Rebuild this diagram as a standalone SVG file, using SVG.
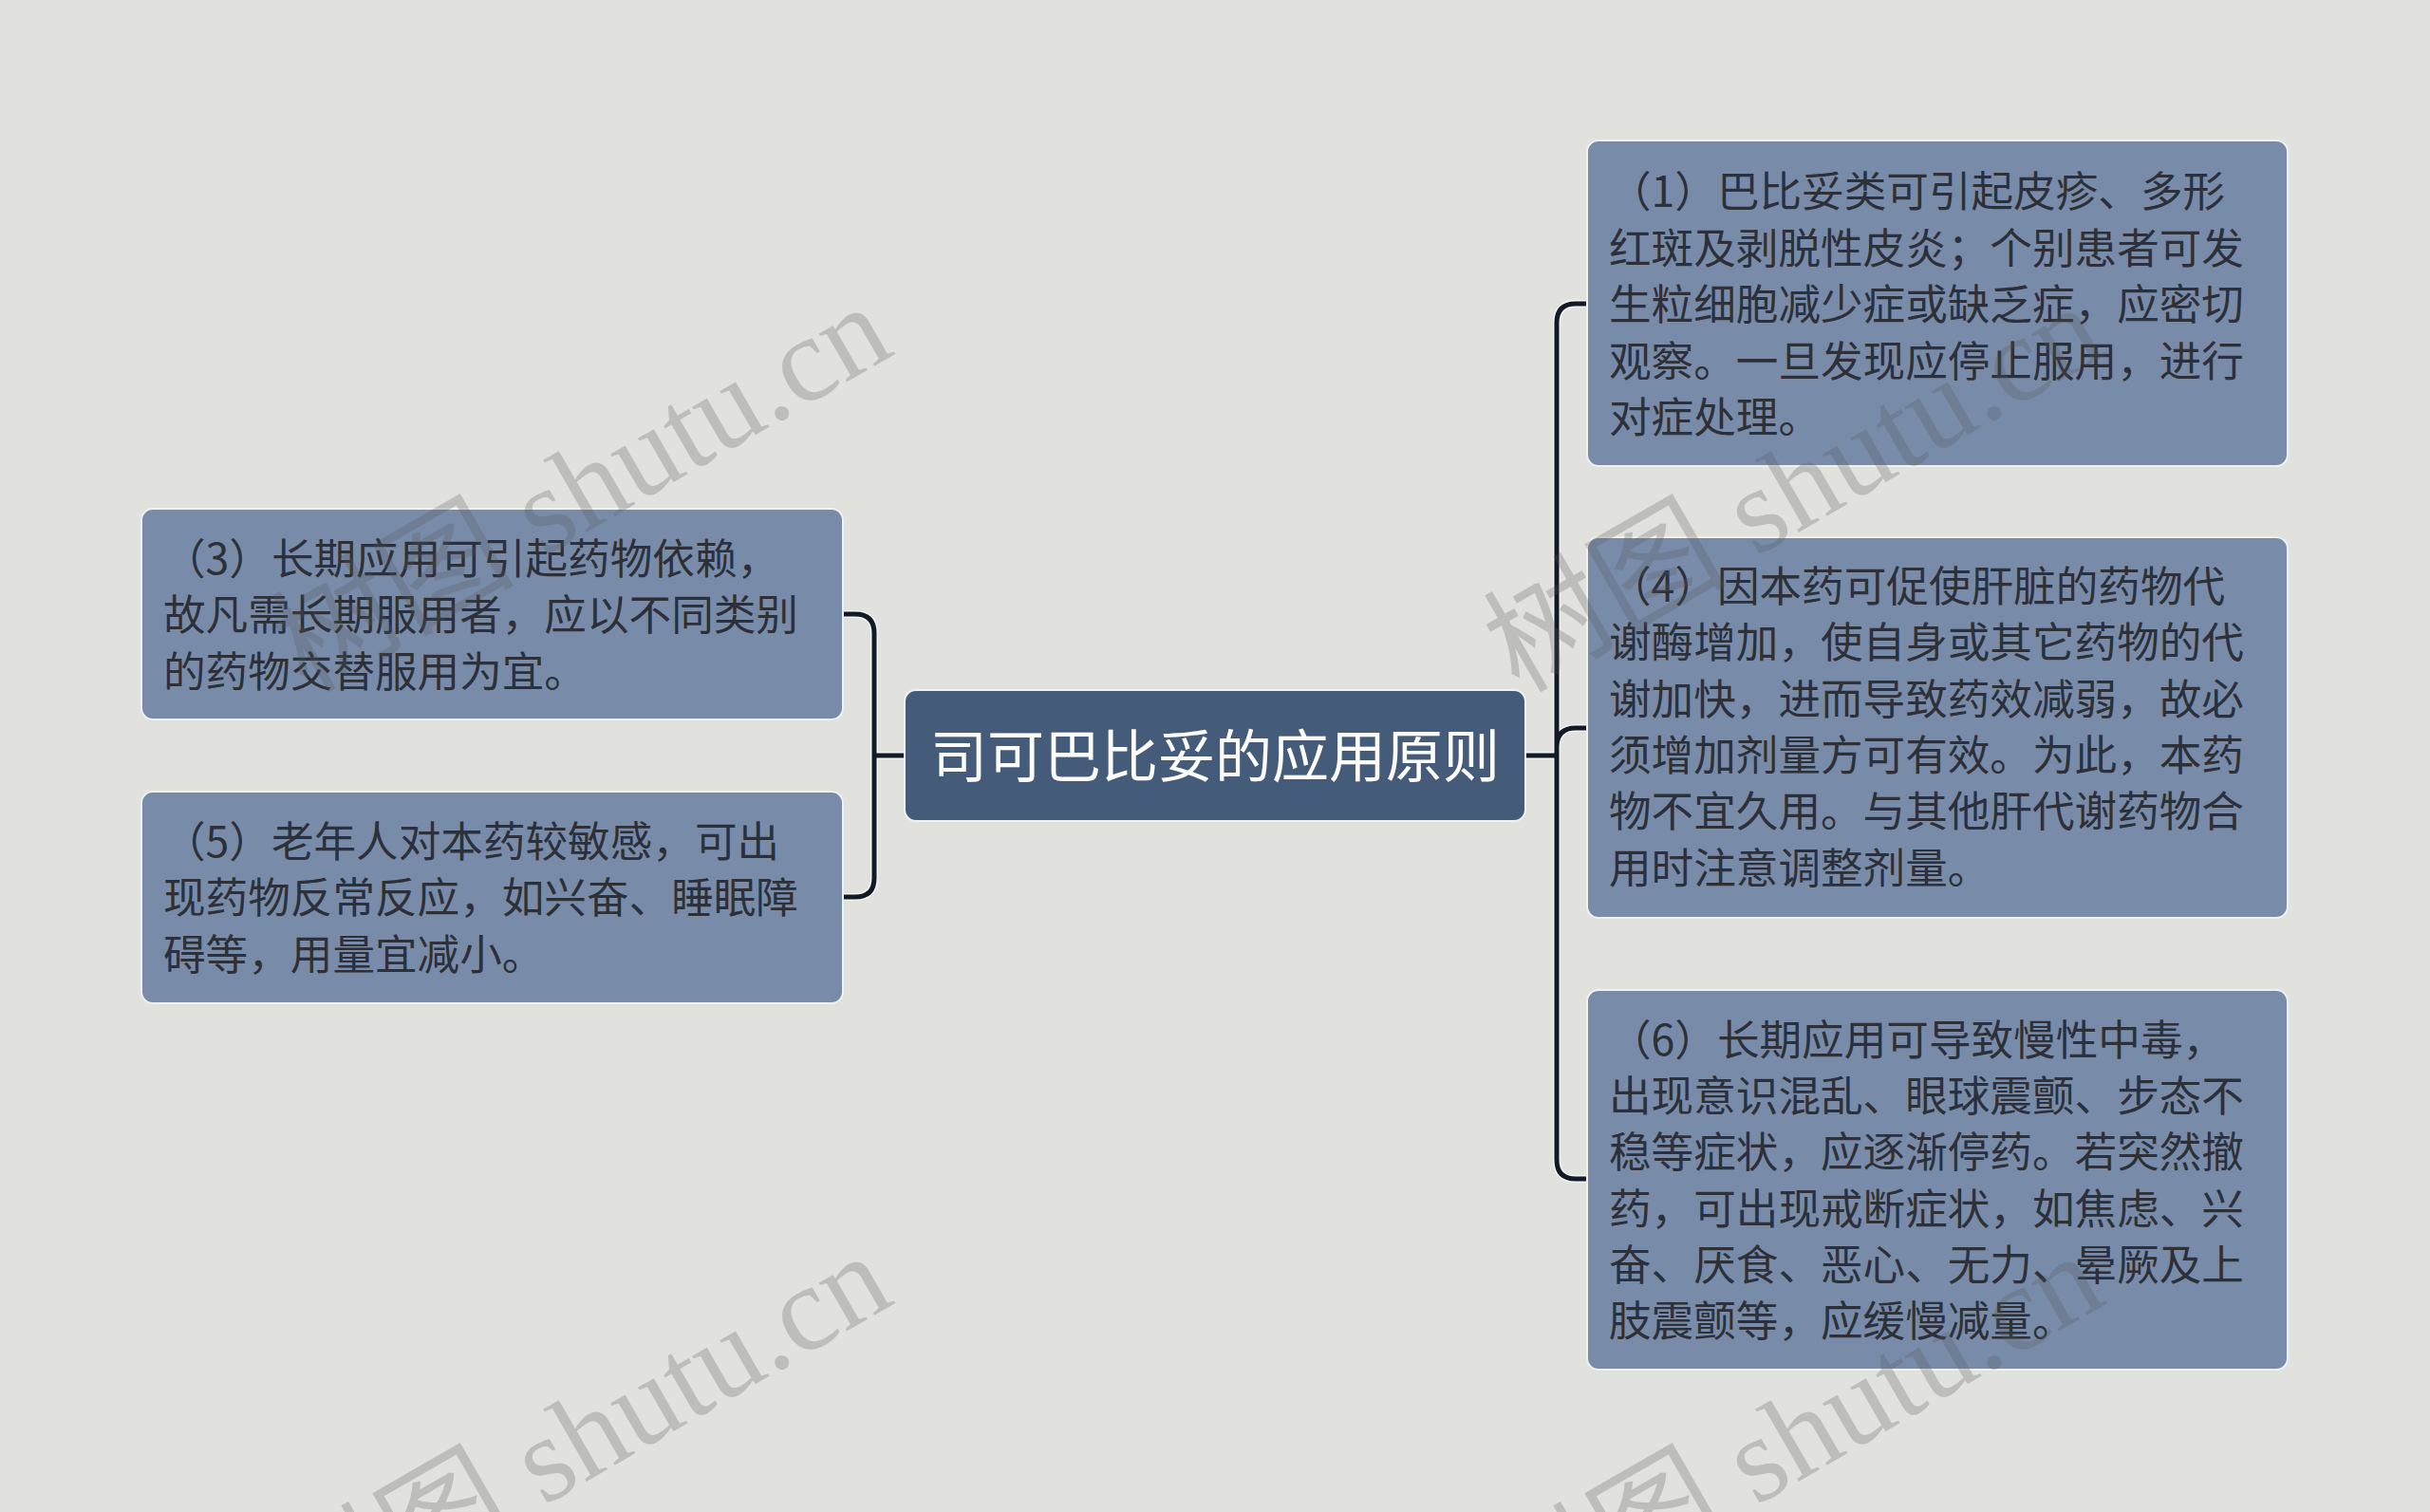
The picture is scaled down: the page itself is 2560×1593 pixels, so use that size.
<svg xmlns="http://www.w3.org/2000/svg" width="2560" height="1593" viewBox="0 0 2560 1593">
<style>
.bg{fill:#e1e2de}
.node rect{fill:#788caa;stroke:#eef0f2;stroke-width:2}
.node text{font-family:"Noto Sans CJK SC","Noto Sans",sans-serif;font-size:44.6px;fill:#2d3038}
#root rect{fill:#445b7a;stroke:#eef0f2;stroke-width:2}
#root text{font-family:"Noto Sans CJK SC","Noto Sans",sans-serif;font-size:60px;fill:#ffffff}
.halo{fill:none;stroke:#f4f5f3;stroke-width:8;stroke-linecap:round;stroke-linejoin:round}
.line{fill:none;stroke:#131a27;stroke-width:5;stroke-linecap:butt;stroke-linejoin:round}
.wm{font-family:"Liberation Serif","Noto Sans CJK SC",serif;font-size:128px;fill:#555555;fill-opacity:0.25}
</style>
<rect class="bg" x="0" y="0" width="2560" height="1593"/>
<g id="connectors">
<path class="halo" d="M888,647 H901 Q921,647 921,667 V925 Q921,945 901,945 H888 M921,796 H953"/>
<path class="line" d="M888,647 H901 Q921,647 921,667 V925 Q921,945 901,945 H888 M921,796 H953"/>
<path class="halo" d="M1672,320 H1660 Q1640,320 1640,340 V1222 Q1640,1242 1660,1242 H1672 M1640,787 Q1640,767 1660,767 H1672 M1607,796 H1640"/>
<path class="line" d="M1672,320 H1660 Q1640,320 1640,340 V1222 Q1640,1242 1660,1242 H1672 M1640,787 Q1640,767 1660,767 H1672 M1607,796 H1640"/>
</g>
<g id="root">
<rect x="953" y="727" width="654" height="138" rx="12"/>
<text x="1280" y="819" text-anchor="middle">司可巴比妥的应用原则</text>
</g>
<g id="n1" class="node">
<rect x="1672" y="148" width="738" height="343" rx="12"/>
<text x="1695" y="218">（1）巴比妥类可引起皮疹、多形</text>
<text x="1695" y="277.5">红斑及剥脱性皮炎；个别患者可发</text>
<text x="1695" y="337">生粒细胞减少症或缺乏症，应密切</text>
<text x="1695" y="396.5">观察。一旦发现应停止服用，进行</text>
<text x="1695" y="456">对症处理。</text>
</g>
<g id="n4" class="node">
<rect x="1672" y="566" width="738" height="401" rx="12"/>
<text x="1695" y="634">（4）因本药可促使肝脏的药物代</text>
<text x="1695" y="693">谢酶增加，使自身或其它药物的代</text>
<text x="1695" y="753">谢加快，进而导致药效减弱，故必</text>
<text x="1695" y="812">须增加剂量方可有效。为此，本药</text>
<text x="1695" y="871">物不宜久用。与其他肝代谢药物合</text>
<text x="1695" y="931">用时注意调整剂量。</text>
</g>
<g id="n6" class="node">
<rect x="1672" y="1043" width="738" height="400" rx="12"/>
<text x="1695" y="1112">（6）长期应用可导致慢性中毒，</text>
<text x="1695" y="1171">出现意识混乱、眼球震颤、步态不</text>
<text x="1695" y="1230">稳等症状，应逐渐停药。若突然撤</text>
<text x="1695" y="1290">药，可出现戒断症状，如焦虑、兴</text>
<text x="1695" y="1349">奋、厌食、恶心、无力、晕厥及上</text>
<text x="1695" y="1408">肢震颤等，应缓慢减量。</text>
</g>
<g id="n3" class="node">
<rect x="149" y="536" width="739" height="222" rx="12"/>
<text x="172" y="605">（3）长期应用可引起药物依赖，</text>
<text x="172" y="664">故凡需长期服用者，应以不同类别</text>
<text x="172" y="724">的药物交替服用为宜。</text>
</g>
<g id="n5" class="node">
<rect x="149" y="834" width="739" height="223" rx="12"/>
<text x="172" y="903">（5）老年人对本药较敏感，可出</text>
<text x="172" y="962">现药物反常反应，如兴奋、睡眠障</text>
<text x="172" y="1022">碍等，用量宜减小。</text>
</g>
<g id="watermarks">
<text class="wm" text-anchor="end" transform="translate(945,372) rotate(-30)">树图 shutu.cn</text>
<text class="wm" text-anchor="end" transform="translate(2222,372) rotate(-30)">树图 shutu.cn</text>
<text class="wm" text-anchor="end" transform="translate(945,1372) rotate(-30)">树图 shutu.cn</text>
<text class="wm" text-anchor="end" transform="translate(2222,1372) rotate(-30)">树图 shutu.cn</text>
</g>
</svg>
